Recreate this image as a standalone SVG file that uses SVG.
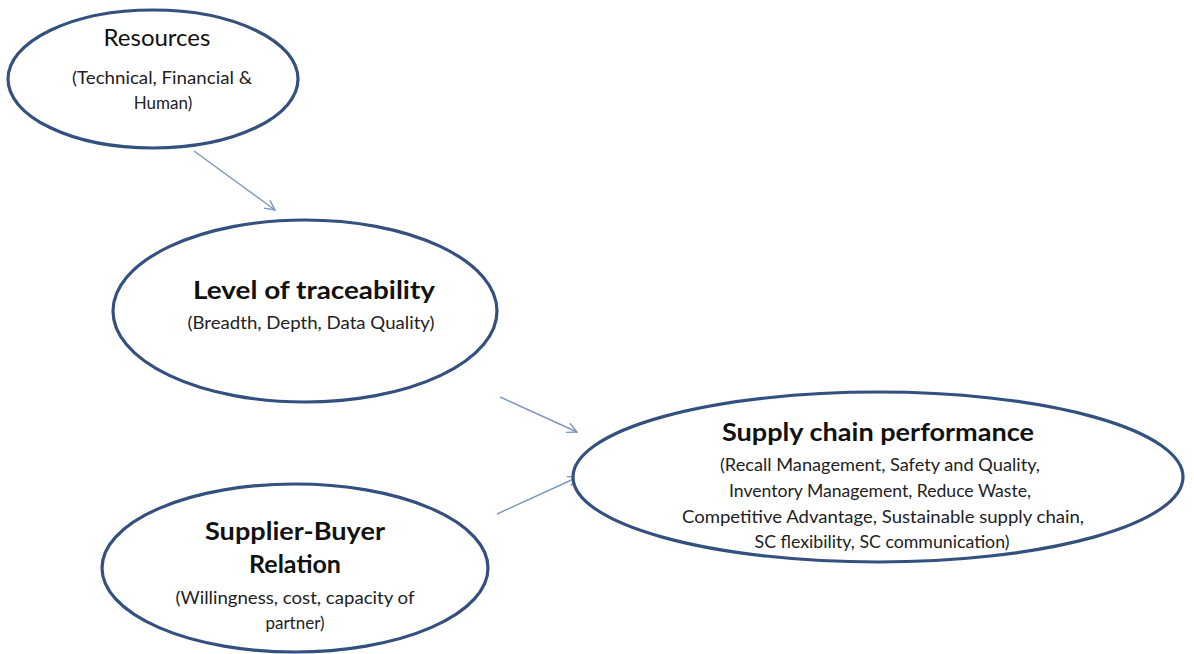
<svg xmlns="http://www.w3.org/2000/svg" width="1194" height="654" viewBox="0 0 1194 654">
<defs>
<style>
.node ellipse{fill:#ffffff;stroke:#34507e;stroke-width:3.2}
.t{font-family:Lato,"Open Sans","Liberation Sans",sans-serif;fill:#111;text-anchor:middle}
.h{font-size:25px;font-weight:bold}
.r{font-size:24px}
.s{font-size:17px;fill:#222}
.conn line{stroke:#7e97bd;stroke-width:1.4;marker-end:url(#ah)}
</style>
<marker id="ah" viewBox="0 0 12 12" refX="11" refY="6" markerWidth="12" markerHeight="12" markerUnits="userSpaceOnUse" orient="auto">
<path d="M1,1 L11,6 L1,11" fill="none" stroke="#7e97bd" stroke-width="1.4"/>
</marker>
</defs>
<rect width="1194" height="654" fill="#ffffff"/>
<g class="conn">
<line x1="194" y1="151" x2="275" y2="210"/>
<line x1="500" y1="397" x2="577" y2="432"/>
<line x1="497" y1="514" x2="578" y2="477"/>
</g>
<g id="resources" class="node">
<ellipse cx="153" cy="79" rx="145" ry="69"/>
<text class="t r" x="157" y="46">Resources</text>
<text class="t s" x="162" y="84" textLength="180" lengthAdjust="spacingAndGlyphs">(Technical, Financial &amp;</text>
<text class="t s" x="163" y="109">Human)</text>
</g>
<g id="traceability" class="node">
<ellipse cx="305" cy="311" rx="192" ry="91"/>
<text class="t h" x="314" y="299" textLength="242" lengthAdjust="spacingAndGlyphs">Level of traceability</text>
<text class="t s" x="311" y="329" textLength="247" lengthAdjust="spacingAndGlyphs">(Breadth, Depth, Data Quality)</text>
</g>
<g id="performance" class="node">
<ellipse cx="878" cy="477" rx="305" ry="85"/>
<text class="t h" x="878" y="441" textLength="312" lengthAdjust="spacingAndGlyphs">Supply chain performance</text>
<text class="t s" x="880" y="471" textLength="320" lengthAdjust="spacingAndGlyphs">(Recall Management, Safety and Quality,</text>
<text class="t s" x="880" y="497" textLength="302" lengthAdjust="spacingAndGlyphs">Inventory Management, Reduce Waste,</text>
<text class="t s" x="883" y="523" textLength="402" lengthAdjust="spacingAndGlyphs">Competitive Advantage, Sustainable supply chain,</text>
<text class="t s" x="882" y="548" textLength="255" lengthAdjust="spacingAndGlyphs">SC flexibility, SC communication)</text>
</g>
<g id="supplier" class="node">
<ellipse cx="295" cy="568" rx="193" ry="84"/>
<text class="t h" x="295" y="540" textLength="180" lengthAdjust="spacingAndGlyphs">Supplier-Buyer</text>
<text class="t h" x="295" y="573">Relation</text>
<text class="t s" x="295" y="604" textLength="239" lengthAdjust="spacingAndGlyphs">(Willingness, cost, capacity of</text>
<text class="t s" x="295" y="629">partner)</text>
</g>
</svg>
